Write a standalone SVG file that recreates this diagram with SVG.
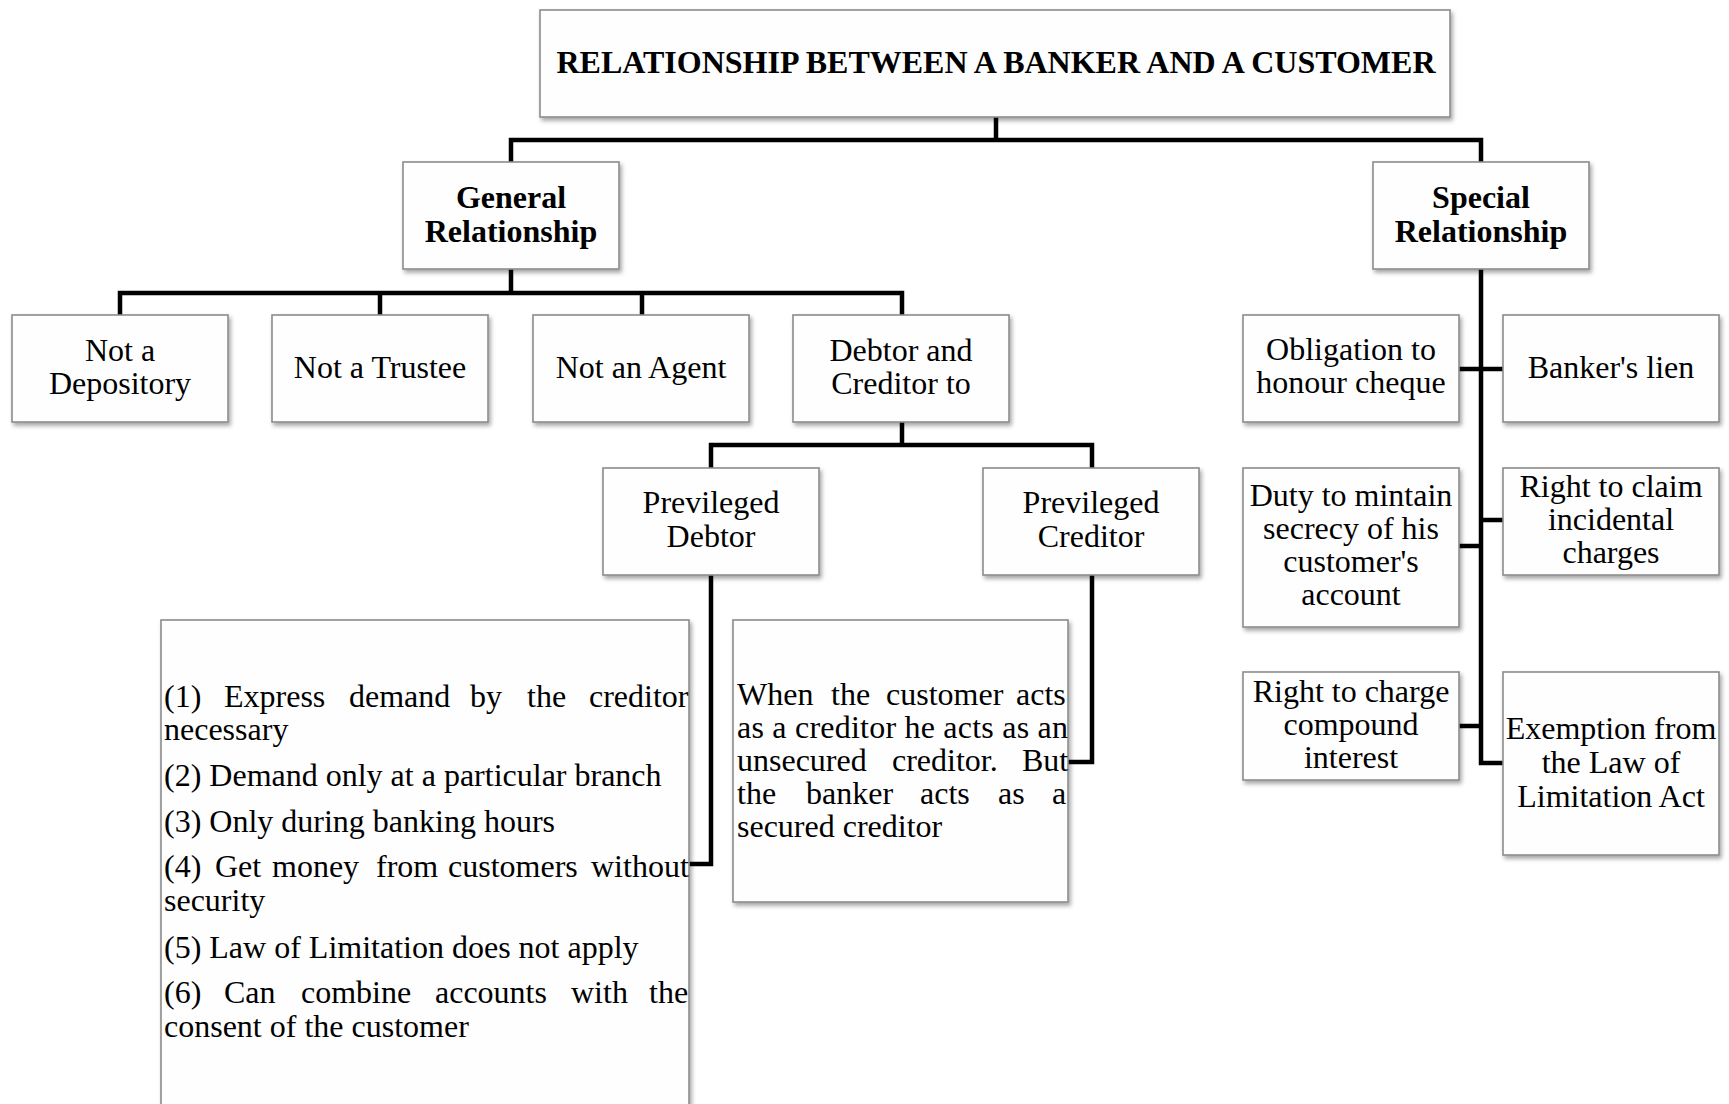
<svg xmlns="http://www.w3.org/2000/svg" width="1729" height="1104" viewBox="0 0 1729 1104">
<defs>
<filter id="sh" x="-10%" y="-10%" width="125%" height="130%">
<feDropShadow dx="2" dy="3" stdDeviation="2" flood-color="#000" flood-opacity="0.35"/>
</filter>
<style>
.box{fill:#fefefe;stroke:#8c8c8c;stroke-width:1.6;filter:url(#sh)}
.t{font-family:"Liberation Serif","Times New Roman",serif;font-size:32px;fill:#000;text-anchor:middle}
.b{font-weight:bold}
.l{text-anchor:start}
.c{fill:none;stroke:#000;stroke-width:4.5;stroke-linejoin:miter;stroke-linecap:butt}
</style>
</defs>
<rect width="1729" height="1104" fill="#fff"/>

<g id="connectors">
<path class="c" d="M996 117V140M511 162V140H1481V162"/>
<path class="c" d="M511 269V293M120 315V293H902V315M380 293V315M642 293V315"/>
<path class="c" d="M902 422V445M711 468V445H1092V468"/>
<path class="c" d="M711 575V864H689"/>
<path class="c" d="M1092 575V762H1068"/>
<path class="c" d="M1481 269V763H1503M1459 369H1503M1459 546H1481M1481 520H1503M1459 726H1481"/>
</g>

<g id="title">
<rect class="box" x="540" y="10" width="910" height="107"/>
<text class="t b" x="996" y="73" textLength="879" lengthAdjust="spacingAndGlyphs">RELATIONSHIP BETWEEN A BANKER AND A CUSTOMER</text>
</g>

<g id="general">
<rect class="box" x="403" y="162" width="216" height="107"/>
<text class="t b"><tspan x="511" y="208">General</tspan><tspan x="511" y="242">Relationship</tspan></text>
</g>

<g id="special">
<rect class="box" x="1373" y="162" width="216" height="107"/>
<text class="t b"><tspan x="1481" y="208">Special</tspan><tspan x="1481" y="242">Relationship</tspan></text>
</g>

<g id="not-depository">
<rect class="box" x="12" y="315" width="216" height="107"/>
<text class="t"><tspan x="120" y="361">Not a</tspan><tspan x="120" y="394">Depository</tspan></text>
</g>

<g id="not-trustee">
<rect class="box" x="272" y="315" width="216" height="107"/>
<text class="t" x="380" y="378">Not a Trustee</text>
</g>

<g id="not-agent">
<rect class="box" x="533" y="315" width="216" height="107"/>
<text class="t" x="641" y="378">Not an Agent</text>
</g>

<g id="debtor-creditor">
<rect class="box" x="793" y="315" width="216" height="107"/>
<text class="t"><tspan x="901" y="361">Debtor and</tspan><tspan x="901" y="394">Creditor to</tspan></text>
</g>

<g id="prev-debtor">
<rect class="box" x="603" y="468" width="216" height="107"/>
<text class="t"><tspan x="711" y="513">Previleged</tspan><tspan x="711" y="547">Debtor</tspan></text>
</g>

<g id="prev-creditor">
<rect class="box" x="983" y="468" width="216" height="107"/>
<text class="t"><tspan x="1091" y="513">Previleged</tspan><tspan x="1091" y="547">Creditor</tspan></text>
</g>

<g id="debtor-list">
<rect class="box" x="161" y="620" width="528" height="500"/>
<text class="t l" y="707"><tspan x="164">(1)</tspan><tspan x="224">Express</tspan><tspan x="349">demand</tspan><tspan x="470">by</tspan><tspan x="527">the</tspan><tspan x="589">creditor</tspan><tspan x="164" y="740">necessary</tspan></text>
<text class="t l" x="164" y="786">(2) Demand only at a particular branch</text>
<text class="t l" x="164" y="832">(3) Only during banking hours</text>
<text class="t l" y="877"><tspan x="164">(4)</tspan><tspan x="215">Get</tspan><tspan x="272">money</tspan><tspan x="376">from</tspan><tspan x="448">customers</tspan><tspan x="591">without</tspan><tspan x="164" y="911">security</tspan></text>
<text class="t l" x="164" y="958">(5) Law of Limitation does not apply</text>
<text class="t l" y="1003"><tspan x="164">(6)</tspan><tspan x="224">Can</tspan><tspan x="301">combine</tspan><tspan x="435">accounts</tspan><tspan x="571">with</tspan><tspan x="649">the</tspan><tspan x="164" y="1037">consent of the customer</tspan></text>
</g>

<g id="creditor-text">
<rect class="box" x="733" y="620" width="335" height="282"/>
<text class="t l" y="705"><tspan x="737">When</tspan><tspan x="831">the</tspan><tspan x="886">customer</tspan><tspan x="1016">acts</tspan><tspan x="737" y="738" textLength="331" lengthAdjust="spacing">as a creditor he acts as an</tspan><tspan x="737" y="771">unsecured</tspan><tspan x="892" y="771">creditor.</tspan><tspan x="1022" y="771">But</tspan><tspan x="737" y="804">the</tspan><tspan x="806" y="804">banker</tspan><tspan x="920" y="804">acts</tspan><tspan x="998" y="804">as</tspan><tspan x="1052" y="804">a</tspan><tspan x="737" y="837">secured creditor</tspan></text>
</g>

<g id="obligation">
<rect class="box" x="1243" y="315" width="216" height="107"/>
<text class="t"><tspan x="1351" y="360">Obligation to</tspan><tspan x="1351" y="393">honour cheque</tspan></text>
</g>

<g id="bankers-lien">
<rect class="box" x="1503" y="315" width="216" height="107"/>
<text class="t" x="1611" y="378">Banker's lien</text>
</g>

<g id="duty-secrecy">
<rect class="box" x="1243" y="468" width="216" height="159"/>
<text class="t"><tspan x="1351" y="506">Duty to mintain</tspan><tspan x="1351" y="539">secrecy of his</tspan><tspan x="1351" y="572">customer's</tspan><tspan x="1351" y="605">account</tspan></text>
</g>

<g id="incidental">
<rect class="box" x="1503" y="468" width="216" height="107"/>
<text class="t"><tspan x="1611" y="497">Right to claim</tspan><tspan x="1611" y="530">incidental</tspan><tspan x="1611" y="563">charges</tspan></text>
</g>

<g id="compound">
<rect class="box" x="1243" y="672" width="216" height="108"/>
<text class="t"><tspan x="1351" y="702">Right to charge</tspan><tspan x="1351" y="735">compound</tspan><tspan x="1351" y="768">interest</tspan></text>
</g>

<g id="exemption">
<rect class="box" x="1503" y="672" width="216" height="183"/>
<text class="t"><tspan x="1611" y="739">Exemption from</tspan><tspan x="1611" y="773">the Law of</tspan><tspan x="1611" y="807">Limitation Act</tspan></text>
</g>
</svg>
